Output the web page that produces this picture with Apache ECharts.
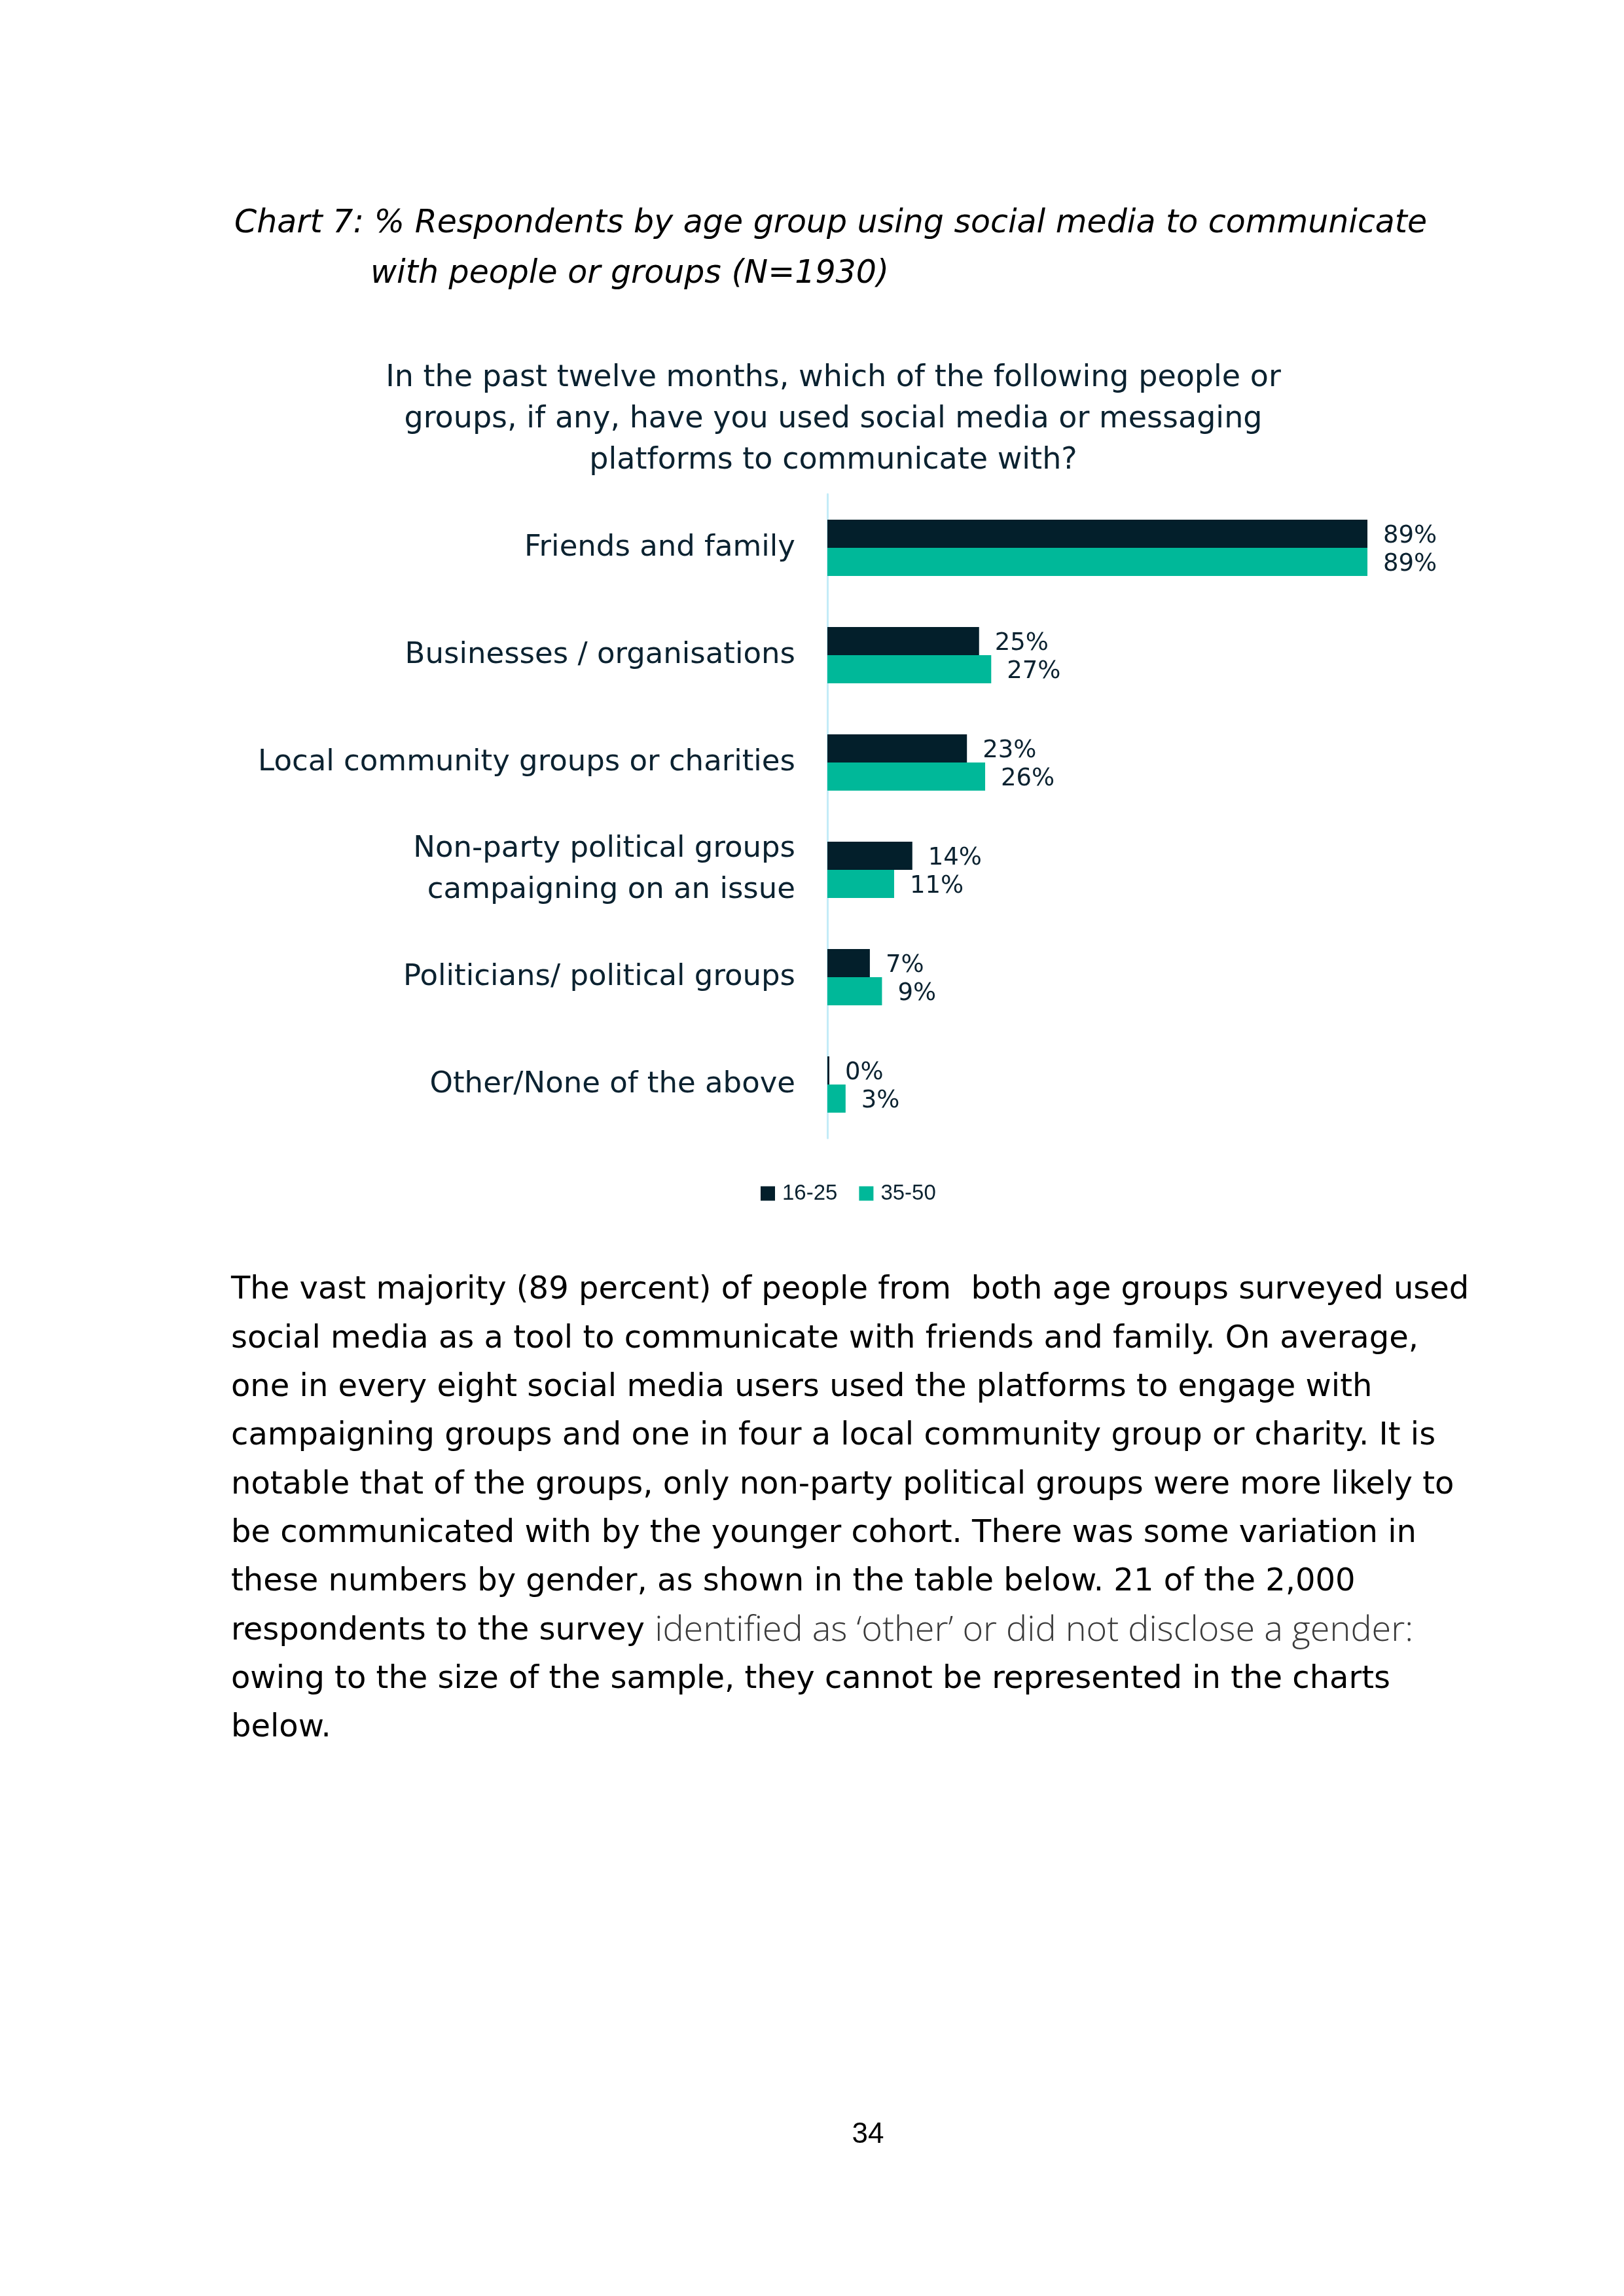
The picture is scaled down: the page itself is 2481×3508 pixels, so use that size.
<!DOCTYPE html>
<html>
<head>
<meta charset="utf-8">
<script src="https://cdn.jsdelivr.net/npm/echarts@6/dist/echarts.min.js"></script>
<style>
html,body{margin:0;padding:0;background:#fff;}
#c{width:2481px;height:3508px;}
</style>
</head>
<body>
<div id="c"></div>
<script>
// ---- data ----
const categories = [
  'Friends and family',
  'Businesses / organisations',
  'Local community groups or charities',
  'Non-party political groups\ncampaigning on an issue',
  'Politicians/ political groups',
  'Other/None of the above'
];
const seriesNames = ['16-25', '35-50'];
const values1625 = [89, 25, 23, 14, 7, 0];
const values3550 = [89, 27, 26, 11, 9, 3];

const titleLines = [
  'Chart 7: % Respondents by age group using social media to communicate',
  'with people or groups (N=1930)'
];
const questionLines = [
  'In the past twelve months, which of the following people or',
  'groups, if any, have you used social media or messaging',
  'platforms to communicate with?'
];
const paragraphLines = [
  'The vast majority (89 percent) of people from  both age groups surveyed used',
  'social media as a tool to communicate with friends and family. On average,',
  'one in every eight social media users used the platforms to engage with',
  'campaigning groups and one in four a local community group or charity. It is',
  'notable that of the groups, only non-party political groups were more likely to',
  'be communicated with by the younger cohort. There was some variation in',
  'these numbers by gender, as shown in the table below. 21 of the 2,000',
  '{a|respondents to the survey }{b|identified as \u2018other\u2019 or did not disclose a gender:}',
  'owing to the size of the sample, they cannot be represented in the charts',
  'below.'
];
const pageNumber = '34';

// ---- styles ----
const DARK = '#031f2b';
const TEAL = '#00b899';
const TEXT = '#0b2230';
const WIDE = "'DejaVu Sans', 'Liberation Sans', sans-serif";
const FONT = "'Liberation Sans', Arial, sans-serif";

const chart = echarts.init(document.getElementById('c'), null, {renderer: 'canvas'});

function txt(x, y, text, font, fill, align, extra) {
  return {
    type: 'text', x: x, y: y,
    style: Object.assign({
      text: text, font: font, fill: fill,
      align: align || 'left', textAlign: align || 'left',
      verticalAlign: 'middle', textVerticalAlign: 'middle'
    }, extra || {})
  };
}

const graphics = [];
// title (two lines, second indented)
graphics.push(txt(358, 342, titleLines[0], 'italic 49px ' + WIDE, '#000'));
graphics.push(txt(566, 419, titleLines[1], 'italic 49px ' + WIDE, '#000'));
// question text (centred)
questionLines.forEach((t, i) => {
  graphics.push(txt(1273, 578 + i * 63, t, '46px ' + WIDE, TEXT, 'center'));
});
// paragraph
paragraphLines.forEach((t, i) => {
  graphics.push(txt(353, 1972 + i * 74.3, t, '48px ' + WIDE, '#000', 'left', {
    rich: {
      a: {fontSize: 48, fontFamily: WIDE, fill: '#000'},
      b: {fontSize: 54, fontFamily: "'Open Sans', sans-serif", fontWeight: 300, fill: '#3a3a3a'}
    }
  }));
});
// page number
graphics.push(txt(1326, 3262, pageNumber, '44px ' + FONT, '#000', 'center'));

const labelStyle = {
  show: true,
  position: 'right',
  distance: 24,
  offset: [0, 4],
  formatter: '{c}%',
  fontSize: 37,
  fontFamily: WIDE,
  color: TEXT
};

chart.setOption({
  backgroundColor: '#ffffff',
  animation: false,
  graphic: graphics,
  legend: {
    data: seriesNames,
    left: 1157,
    top: 1802,
    icon: 'rect',
    itemWidth: 22,
    itemHeight: 22,
    itemGap: 33,
    textStyle: {fontSize: 33, fontFamily: FONT, color: TEXT, padding: [0, 0, 0, 6]}
  },
  grid: {left: 1264, top: 755, width: 927, height: 984, containLabel: false},
  xAxis: {type: 'value', min: 0, max: 100, show: false},
  yAxis: {
    type: 'category',
    data: categories,
    inverse: true,
    axisLine: {show: true, lineStyle: {color: '#c4ecf8', width: 3}},
    axisTick: {show: false},
    axisLabel: {
      margin: 49, fontSize: 45, fontFamily: WIDE, color: TEXT,
      lineHeight: 63, align: 'right'
    }
  },
  series: [
    {
      name: seriesNames[0], type: 'bar', data: values1625,
      barWidth: 43, barGap: '0%', barMinHeight: 3,
      itemStyle: {color: DARK},
      label: labelStyle
    },
    {
      name: seriesNames[1], type: 'bar', data: values3550,
      barWidth: 43, barGap: '0%',
      itemStyle: {color: TEAL},
      label: labelStyle
    }
  ]
});
</script>
</body>
</html>
